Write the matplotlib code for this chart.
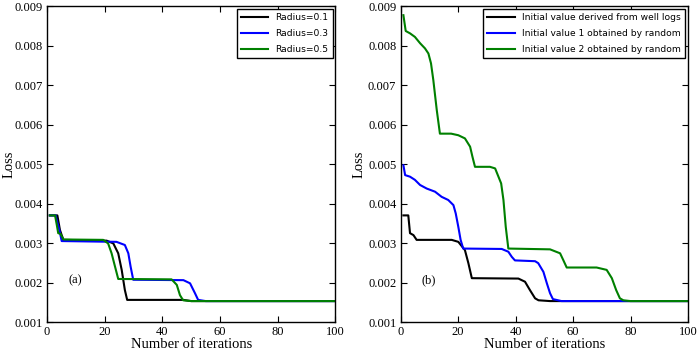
import matplotlib
matplotlib.use("Agg")
import matplotlib.pyplot as plt

# (a) different radius -- breakpoints
r01_x = [1, 3.6, 4.5, 5.1, 5.7, 20.7, 23, 24.7, 25.9, 27, 27.8, 47.3, 50, 100]
r01_y = [0.00370, 0.00370, 0.00333, 0.00320, 0.00308, 0.00306, 0.00299, 0.00274, 0.00232, 0.00181, 0.00156, 0.00156, 0.00153, 0.00153]

r03_x = [1, 3.0, 3.4, 4.3, 5.1, 24.1, 27, 28.2, 29, 29.9, 47.3, 49.6, 51.3, 52.4, 55, 100]
r03_y = [0.00370, 0.00370, 0.00358, 0.00333, 0.00305, 0.00303, 0.00295, 0.00274, 0.00240, 0.00207, 0.00206, 0.00198, 0.00173, 0.00156, 0.00153, 0.00153]

r05_x = [1, 2.8, 3.4, 3.9, 4.7, 5.7, 19.5, 21.2, 22.4, 23.6, 24.7, 43.2, 45, 46.1, 47.2, 50, 100]
r05_y = [0.00370, 0.00370, 0.00346, 0.00325, 0.00323, 0.00309, 0.00308, 0.00299, 0.00274, 0.00240, 0.00209, 0.00208, 0.00194, 0.00168, 0.00155, 0.00153, 0.00153]

# (b) different initial values
well_x = [1, 2.7, 3.3, 4.5, 5.6, 17.8, 20.1, 22.4, 23.6, 24.8, 41, 43.3, 45, 46.8, 48, 52, 100]
well_y = [0.00370, 0.00370, 0.00325, 0.00320, 0.00308, 0.00308, 0.00303, 0.00282, 0.00249, 0.00211, 0.00210, 0.00202, 0.00181, 0.00160, 0.00155, 0.00153, 0.00153]

rand1_x = [1, 1.6, 3.3, 5, 6.8, 9.1, 12, 14.3, 16.6, 18.4, 19.2, 20.1, 20.9, 21.8, 35.2, 37.5, 38.7, 39.8, 46.8, 47.9, 49.7, 50.9, 52, 53, 56, 100]
rand1_y = [0.00497, 0.00472, 0.00468, 0.00460, 0.00447, 0.00438, 0.00430, 0.00417, 0.00409, 0.00396, 0.00375, 0.00341, 0.00308, 0.00286, 0.00285, 0.00278, 0.00265, 0.00256, 0.00254, 0.00249, 0.00227, 0.00198, 0.00173, 0.00158, 0.00153, 0.00153]

rand2_x = [1, 1.8, 3.3, 5, 6.8, 8.5, 9.7, 10.6, 11.4, 12.6, 13.7, 17.6, 20.1, 22.4, 24.2, 25, 25.9, 31.1, 32.9, 35, 35.8, 36.6, 37.5, 52, 55.5, 56.6, 57.8, 68.2, 71.7, 73.5, 75, 76.3, 77.5, 80, 100]
rand2_y = [0.00877, 0.00837, 0.00831, 0.00822, 0.00806, 0.00793, 0.00780, 0.00755, 0.00713, 0.00637, 0.00577, 0.00577, 0.00573, 0.00565, 0.00544, 0.00519, 0.00493, 0.00493, 0.00489, 0.00451, 0.00409, 0.00341, 0.00286, 0.00284, 0.00274, 0.00257, 0.00238, 0.00238, 0.00232, 0.00211, 0.00181, 0.00160, 0.00155, 0.00153, 0.00153]

labels_a = ["Radius=0.1", "Radius=0.3", "Radius=0.5"]
labels_b = ["Initial value derived from well logs",
            "Initial value 1 obtained by random",
            "Initial value 2 obtained by random"]
colors = ["black", "#0000ff", "#008000"]

plt.rcParams["font.family"] = "Liberation Serif"

fig = plt.figure(figsize=(6.99, 3.51), dpi=100)
ax1 = fig.add_axes([0.0672, 0.0826, 0.4127, 0.900])
ax2 = fig.add_axes([0.573, 0.0826, 0.4113, 0.900])


def style(ax, series, labels, tag, ylab_x):
  for (x, y), lab, c in zip(series, labels, colors):
    ax.plot(x, y, color=c, lw=1.5, label=lab)
  ax.set_xlim(0, 100)
  ax.set_ylim(0.001, 0.009)
  ax.set_xticks(range(0, 101, 20))
  ax.set_yticks([0.001 * k for k in range(1, 10)])
  ax.set_yticklabels([f"{0.001 * k:.3f}" for k in range(1, 10)])
  ax.tick_params(direction="in", top=True, right=True, length=4, width=0.8,
                 labelsize=9, pad=3)
  for s in ax.spines.values():
    s.set_linewidth(1.0)
  ax.set_xlabel("Number of iterations", fontsize=10.5, labelpad=0)
  ax.set_ylabel("Loss", fontsize=10.5)
  # keep the label inside the figure, as in the original
  ax.yaxis.set_label_coords(ylab_x, 0.5)
  ax.text(9.8, 0.00205, tag, fontsize=9, ha="center", va="center")
  leg = ax.legend(loc="upper right", prop={"family": "DejaVu Sans", "size": 6.6},
                  fancybox=False, framealpha=1, edgecolor="black",
                  handlelength=3.0, borderaxespad=0.3, labelspacing=0.75,
                  borderpad=0.45)
  leg.get_frame().set_linewidth(1.0)


style(ax1, [(r01_x, r01_y), (r03_x, r03_y), (r05_x, r05_y)], labels_a, "(a)", -0.107)
style(ax2, [(well_x, well_y), (rand1_x, rand1_y), (rand2_x, rand2_y)], labels_b, "(b)", -0.12)

plt.savefig("out.png", dpi=100)
